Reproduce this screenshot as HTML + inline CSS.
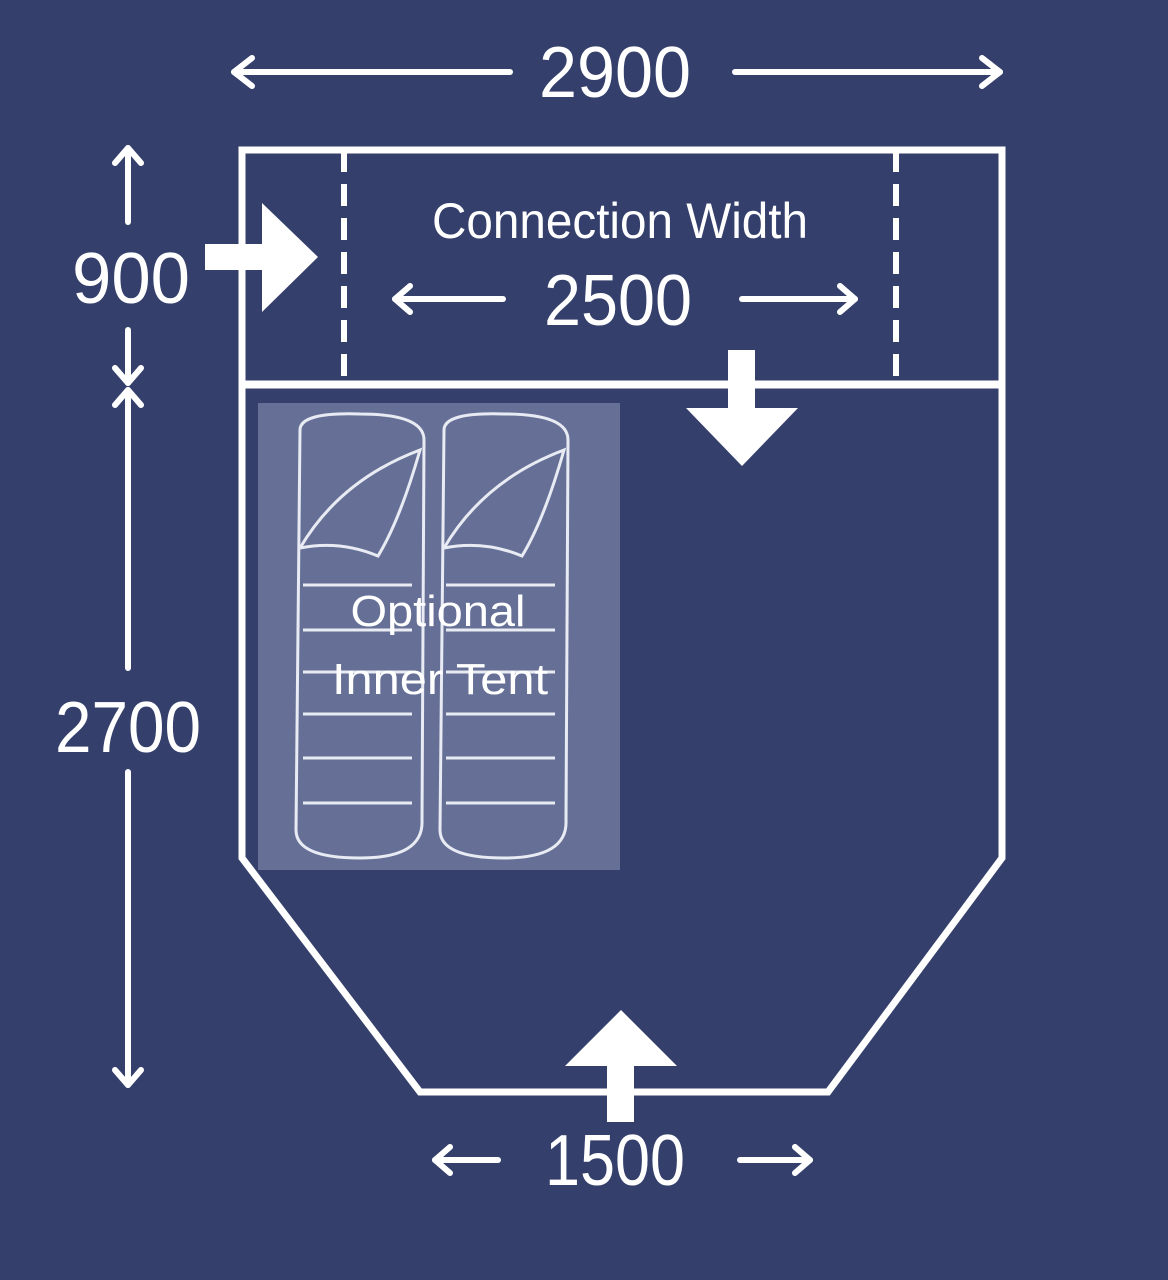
<!DOCTYPE html>
<html><head><meta charset="utf-8"><style>
html,body{margin:0;padding:0;background:#343f6c;}
svg{display:block}
text{font-family:"Liberation Sans Narrow","Liberation Sans",sans-serif;fill:#fff;}
</style></head><body>
<svg width="1168" height="1280" viewBox="0 0 1168 1280" xmlns="http://www.w3.org/2000/svg">
<rect width="1168" height="1280" fill="#343f6c"/>
<!-- inner tent -->
<rect x="258" y="403" width="362" height="467" fill="#667096"/>
<g fill="none" stroke="#e8ebf3" stroke-width="3">
<path d="M300 430 Q300 412 360 414 Q424 414 424 440 L422 820 Q424 858 360 858 Q296 858 296 830 Z"/>
<path d="M444 430 Q444 412 504 414 Q568 414 568 440 L566 820 Q568 858 504 858 Q440 858 440 830 Z"/>
<path d="M300 548 Q340 480 420 450 Q400 520 378 556 Q340 540 300 548"/>
<path d="M444 548 Q484 480 564 450 Q544 520 522 556 Q484 540 444 548"/>
<g stroke-width="3">
<line x1="303" y1="585" x2="412" y2="585"/><line x1="446" y1="585" x2="555" y2="585"/>
<line x1="303" y1="630" x2="412" y2="630"/><line x1="446" y1="630" x2="555" y2="630"/>
<line x1="303" y1="672" x2="412" y2="672"/><line x1="446" y1="672" x2="555" y2="672"/>
<line x1="303" y1="714" x2="412" y2="714"/><line x1="446" y1="714" x2="555" y2="714"/>
<line x1="303" y1="758" x2="412" y2="758"/><line x1="446" y1="758" x2="555" y2="758"/>
<line x1="303" y1="803" x2="412" y2="803"/><line x1="446" y1="803" x2="555" y2="803"/>
</g></g>
<text x="438" y="626" font-size="44" text-anchor="middle" textLength="175" lengthAdjust="spacingAndGlyphs" fill="#e8ebf3">Optional</text>
<text x="440" y="694" font-size="44" text-anchor="middle" textLength="216" lengthAdjust="spacingAndGlyphs" fill="#e8ebf3">Inner Tent</text>
<!-- outlines -->
<g fill="none" stroke="#fff" stroke-width="7">
<rect x="242" y="150" width="760" height="234"/>
<path d="M242 384 L242 858 L420 1092 L828 1092 L1002 858 L1002 384"/>
<line x1="242" y1="386" x2="1002" y2="386" stroke-width="5"/>
<line x1="344" y1="150" x2="344" y2="383" stroke-dasharray="22 12" stroke-width="6"/>
<line x1="896" y1="150" x2="896" y2="383" stroke-dasharray="22 12" stroke-width="6"/>
</g>
<!-- dimension arrows -->
<g fill="none" stroke="#fff" stroke-width="6" stroke-linecap="round" stroke-linejoin="round">
<line x1="234" y1="72" x2="510" y2="72"/><polyline points="252,58 234,72 252,86"/>
<line x1="735" y1="72" x2="1000" y2="72"/><polyline points="982,58 1000,72 982,86"/>
<line x1="395" y1="299" x2="503" y2="299"/><polyline points="410,286 395,299 410,312"/>
<line x1="742" y1="299" x2="855" y2="299"/><polyline points="840,286 855,299 840,312"/>
<line x1="435" y1="1160" x2="498" y2="1160"/><polyline points="450,1147 435,1160 450,1173"/>
<line x1="740" y1="1160" x2="810" y2="1160"/><polyline points="795,1147 810,1160 795,1173"/>
<line x1="128" y1="148" x2="128" y2="222"/><polyline points="115,163 128,148 141,163"/>
<line x1="128" y1="330" x2="128" y2="383"/><polyline points="115,368 128,383 141,368"/>
<line x1="128" y1="390" x2="128" y2="668"/><polyline points="115,405 128,390 141,405"/>
<line x1="128" y1="772" x2="128" y2="1085"/><polyline points="115,1070 128,1085 141,1070"/>
</g>
<!-- big arrows -->
<g fill="#fff">
<rect x="205" y="244" width="60" height="26"/><polygon points="262,203 318,257 262,312"/>
<rect x="728" y="350" width="27" height="62"/><polygon points="686,408 798,408 742,466"/>
<rect x="607" y="1062" width="27" height="60"/><polygon points="565,1066 677,1066 621,1010"/>
</g>
<!-- labels -->
<text x="615" y="97" font-size="72" text-anchor="middle" textLength="152" lengthAdjust="spacingAndGlyphs">2900</text>
<text x="620" y="238" font-size="50" text-anchor="middle" textLength="376" lengthAdjust="spacingAndGlyphs">Connection Width</text>
<text x="618" y="325" font-size="72" text-anchor="middle" textLength="148" lengthAdjust="spacingAndGlyphs">2500</text>
<text x="131" y="303" font-size="72" text-anchor="middle" textLength="118" lengthAdjust="spacingAndGlyphs">900</text>
<text x="128" y="752" font-size="72" text-anchor="middle" textLength="146" lengthAdjust="spacingAndGlyphs">2700</text>
<text x="615" y="1185" font-size="72" text-anchor="middle" textLength="140" lengthAdjust="spacingAndGlyphs">1500</text>
</svg>
</body></html>
